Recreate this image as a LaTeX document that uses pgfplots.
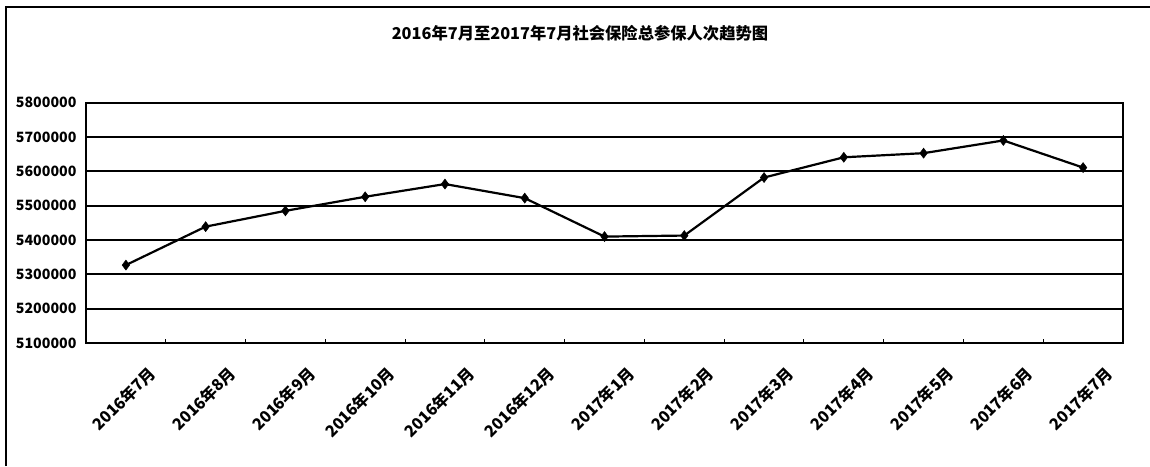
\documentclass[border=0pt]{standalone}
\usepackage{pgfplots}
\pgfplotsset{compat=1.18}
\usepackage{fontspec}
\setmainfont{Noto Sans CJK SC}

\begin{document}
\begin{tikzpicture}
  % fixed page size in px-like units
  \path[use as bounding box] (0pt,0pt) rectangle (1150pt,466pt);
  \draw[line width=1.6pt] (6pt,0pt) -- (6pt,459pt) -- (1150pt,459pt);
  \node[font=\fontsize{16.3}{17}\selectfont\bfseries] at (580pt,433pt)
    {2016年7月至2017年7月社会保险总参保人次趋势图};
  \begin{axis}[
    at={(86pt,123pt)}, anchor=south west,
    scale only axis,
    width=1037pt, height=240.3pt,
    xmin=-0.5, xmax=12.5,
    ymin=5100000, ymax=5800000,
    xtick={0,...,12},
    xticklabels={2016年7月,2016年8月,2016年9月,2016年10月,2016年11月,2016年12月,
      2017年1月,2017年2月,2017年3月,2017年4月,2017年5月,2017年6月,2017年7月},
    minor xtick={-0.5,0.5,...,12.5},
    major tick length=0pt,
    minor tick length=4pt,
    tick align=inside,
    xtick pos=bottom,
    ytick={5100000,5200000,...,5800000},
    ytick style={draw=none},
    scaled y ticks=false,
    /pgf/number format/.cd, fixed, 1000 sep={}, assume math mode=true,
    /pgfplots/.cd,
    ymajorgrids=true,
    grid style={black, line width=1.8pt},
    axis line style={line width=1.8pt},
    minor tick style={line width=1pt, black},
    yticklabel style={font=\fontsize{14.2}{14}\selectfont\bfseries, xshift=-6pt},
    % shifts act in the rotated frame
    xticklabel style={font=\fontsize{16}{16}\selectfont\bfseries,
      rotate=45, anchor=north east, xshift=3pt, yshift=-27pt},
  ]
    \addplot[black, line width=2.2pt, mark=diamond*, mark size=5pt,
      mark options={fill=black, line width=0.5pt}]
      coordinates {
        (0,5327000) (1,5439000) (2,5485000) (3,5526000) (4,5563000)
        (5,5522000) (6,5410000) (7,5413000) (8,5582000) (9,5641000)
        (10,5653000) (11,5690000) (12,5611000)
      };
  \end{axis}
\end{tikzpicture}
\end{document}
